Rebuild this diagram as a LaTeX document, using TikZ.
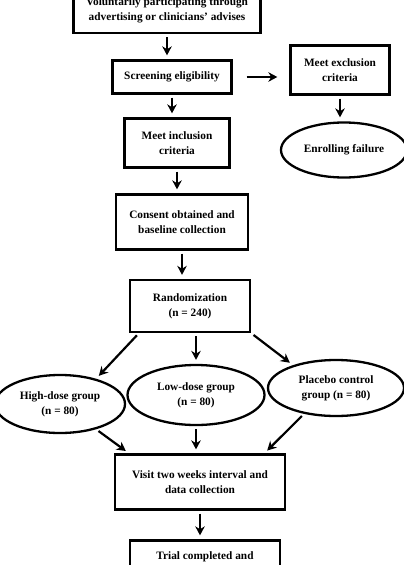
\documentclass[tikz,border=0pt]{standalone}
\usepackage{fontspec}
\setmainfont{Liberation Serif}
\usepackage{tikz}
\usetikzlibrary{arrows.meta,shapes.geometric,positioning,calc}

\begin{document}
\begin{tikzpicture}[
  x=1pt, y=-1pt,
  box/.style={rectangle, draw, line width=2.3pt, align=center, inner sep=2pt, font=\fontsize{11.3}{15}\selectfont\bfseries},
  oval/.style={ellipse, draw, line width=2.3pt, align=center, inner sep=0pt, font=\fontsize{11.3}{15}\selectfont\bfseries},
  arrow/.style={-{Stealth[length=9pt,width=9.5pt]}, line width=2.2pt, shorten <=3pt, shorten >=4pt}
]
\useasboundingbox (0,0) rectangle (404,565);

% main column
\node[box, minimum width=187pt, minimum height=46pt] (volun) at (167,10) {Voluntarily participating through\\advertising or clinicians' advises};
\node[box, minimum width=119pt, minimum height=33pt] (screen) at (172,77) {Screening eligibility};
\node[box, minimum width=105pt, minimum height=49pt] (incl) at (177,143) {Meet inclusion\\criteria};
\node[box, minimum width=132pt, minimum height=55pt] (consent) at (182,222) {Consent obtained and\\baseline collection};
\node[box, minimum width=120pt, minimum height=52pt] (random) at (190,306) {Randomization\\(n = 240)};

% exclusion branch
\node[box, minimum width=99pt, minimum height=49pt] (excl) at (340,70) {Meet exclusion\\criteria};
\node[oval, minimum width=126pt, minimum height=55pt] (fail) at (344,150) {Enrolling failure};

% groups
\node[oval, minimum width=130pt, minimum height=58pt] (high) at (60,404) {High-dose group\\(n = 80)};
\node[oval, minimum width=137pt, minimum height=60pt] (low) at (196,395) {Low-dose group\\(n = 80)};
\node[oval, minimum width=136pt, minimum height=56pt] (placebo) at (336,388) {Placebo control\\group (n = 80)};

\node[box, minimum width=170pt, minimum height=55pt] (visit) at (200,482) {Visit two weeks interval and\\data collection};
\node[box, minimum width=150pt, minimum height=45pt] (trial) at (205,563) {Trial completed and\\final assessment};

\draw[arrow] (volun) -- (volun |- screen.north);
\draw[arrow] (screen) -- (screen |- incl.north);
\draw[arrow] (incl) -- (incl |- consent.north);
\draw[arrow] (consent) -- (consent |- random.north);
\draw[arrow, shorten <=14pt, shorten >=12pt] (screen.east) -- (screen.east -| excl.west);
\draw[arrow] (excl) -- (excl |- fail.north);

\draw[arrow] (random.208) -- (high.35);
\draw[arrow] (random.south -| low) -- (low.north);
\draw[arrow] (random.south east) -- (placebo.152);

\draw[arrow] (high.-35) -- (visit.158);
\draw[arrow] (low.south) -- (low.south |- visit.north);
\draw[arrow] (placebo.219) -- (visit.24);
\draw[arrow] (visit) -- (visit |- trial.north);

\end{tikzpicture}
\end{document}
